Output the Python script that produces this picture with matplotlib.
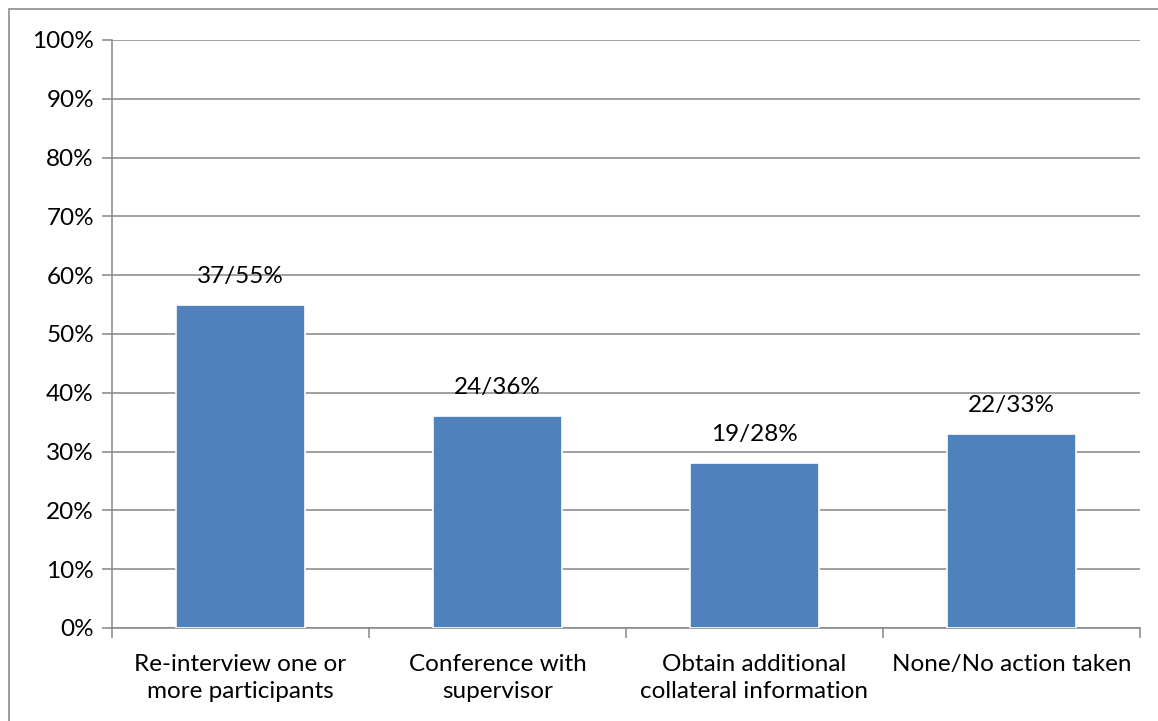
import matplotlib
matplotlib.use("Agg")
import matplotlib.pyplot as plt
from matplotlib.patches import Rectangle
import numpy as np

categories = ["Re-interview one or\nmore participants", "Conference with\nsupervisor",
              "Obtain additional\ncollateral information", "None/No action taken"]
percents = [55, 36, 28, 33]
counts = [37, 24, 19, 22]
yticks = list(range(0, 101, 10))

BAR = "#4F81BD"
GRID = "#868686"
FS = 17.5

plt.rcParams["font.family"] = ["Lato", "DejaVu Sans"]

fig = plt.figure(figsize=(11.58, 7.21), dpi=100)
ax = fig.add_axes([112 / 1158, 93 / 721, 1028 / 1158, 588 / 721])

# marco exterior
fig.patches.append(Rectangle((9 / 1158, -0.1), 1.2, (721 - 9) / 721 + 0.1,
                             transform=fig.transFigure, fill=False,
                             edgecolor="#8c8c8c", linewidth=1.2))

x = np.arange(len(categories))
ax.bar(x, percents, width=0.5, color=BAR, edgecolor="white", linewidth=1.2, zorder=3)

for xi, c, p in zip(x, counts, percents):
    ax.annotate(f"{c}/{p}%", (xi, p), xytext=(0, 13), textcoords="offset points",
                ha="center", va="bottom", fontsize=FS, color="#000000", zorder=4)

ax.set_xlim(-0.5, len(categories) - 0.5)
ax.set_ylim(0, 100)
ax.set_yticks(yticks)
ax.set_yticklabels([f"{t}%" for t in yticks], fontsize=FS)
ax.yaxis.grid(True, color=GRID, linewidth=1.1, zorder=0)
ax.set_axisbelow(True)

ax.set_xticks(x)
ax.set_xticklabels(categories, fontsize=FS, linespacing=1.35)
ax.set_xticks(np.arange(-0.5, len(categories), 1), minor=True)
ax.tick_params(axis="x", which="major", length=0, pad=19)
ax.tick_params(axis="x", which="minor", length=7, color=GRID, width=1.1)
ax.tick_params(axis="y", length=7, color=GRID, width=1.1, pad=6)

for s in ["top", "right"]:
    ax.spines[s].set_visible(False)
for s in ["left", "bottom"]:
    ax.spines[s].set_color(GRID)
    ax.spines[s].set_linewidth(1.1)

fig.savefig("out.png", dpi=100, facecolor="white")
